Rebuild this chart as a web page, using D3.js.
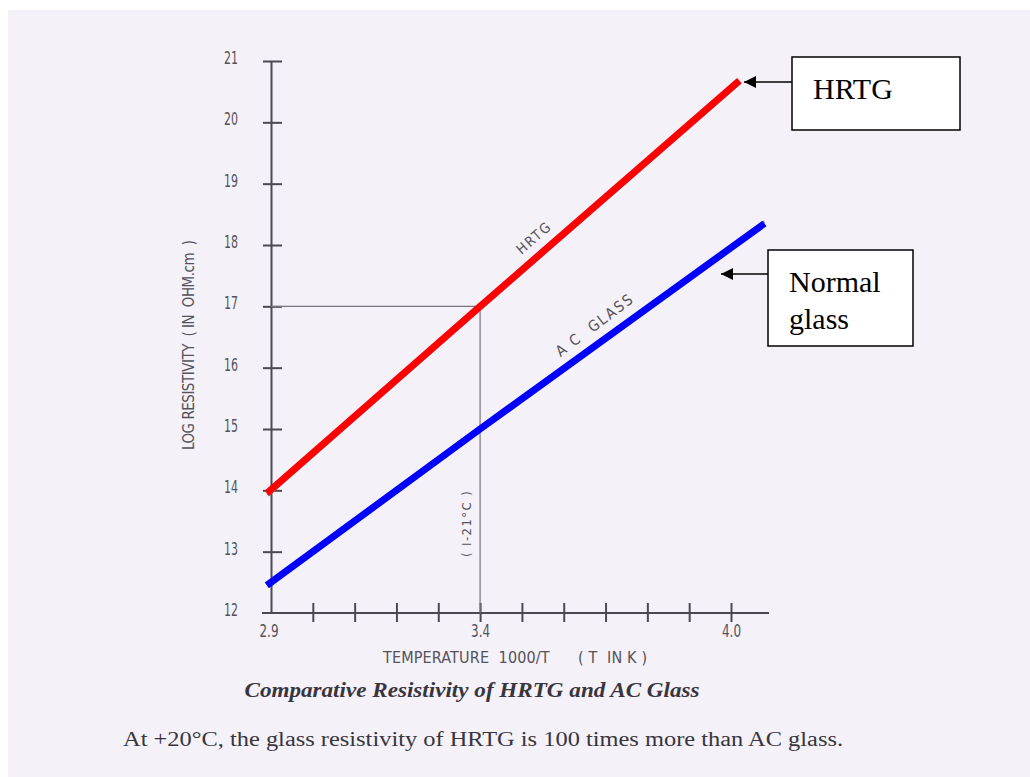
<!DOCTYPE html>
<html>
<head>
<meta charset="utf-8">
<script src="https://cdn.jsdelivr.net/npm/d3@7"></script>
<style>
  html, body { margin: 0; padding: 0; background: #ffffff; }
  svg { display: block; }
</style>
</head>
<body>
<svg id="chart" width="1030" height="777"></svg>
<script>
// values
const yTicks = [12, 13, 14, 15, 16, 17, 18, 19, 20, 21];
const xTicks = [3.0, 3.1, 3.2, 3.3, 3.4, 3.5, 3.6, 3.7, 3.8, 3.9, 4.0];
const xTickLabels = [2.9, 3.4, 4.0];

const hrtgX = [2.89, 3.4, 4.02];
const hrtgY = [13.95, 17.0, 20.68];
const acX = [2.89, 3.4, 4.08];
const acY = [12.45, 15.0, 18.35];

const refPoint = { x: 3.4, y: 17 };

const svg = d3.select("#chart");

// paper background (scan has a thin white edge top/left)
svg.append("rect")
    .attr("x", 8).attr("y", 10)
    .attr("width", 1022).attr("height", 767)
    .attr("fill", "#f4f1f9");

const x = d3.scaleLinear().domain([2.9, 4.0]).range([271, 731]);
const y = d3.scaleLinear().domain([12, 21]).range([613, 61]);

const axisColor = "#4d4953";
const inkColor = "#55525a";
const tickFont = "'Liberation Sans Narrow', 'DejaVu Sans Condensed', 'DejaVu Sans', sans-serif";
const serif = "'Liberation Serif', 'Times New Roman', serif";

// y axis
const yAxis = svg.append("g")
    .attr("transform", `translate(${x(2.9)},0)`)
    .call(d3.axisLeft(y).tickValues(yTicks).tickFormat(d3.format("d")).tickSizeOuter(0));
yAxis.select(".domain").attr("stroke", axisColor).attr("stroke-width", 2);
yAxis.selectAll(".tick line")
    .attr("x1", -8).attr("x2", 11)
    .attr("stroke", axisColor).attr("stroke-width", 2);
yAxis.selectAll(".tick text")
    .attr("x", -33)
    .attr("dy", "0.15em")
    .attr("textLength", 14).attr("lengthAdjust", "spacingAndGlyphs")
    .style("font-family", tickFont)
    .style("font-size", "17px")
    .attr("fill", inkColor);
yAxis.selectAll(".tick").filter(d => d === 12).select("line").remove();

// x axis
const xAxis = svg.append("g")
    .attr("transform", `translate(0,${y(12)})`)
    .call(d3.axisBottom(x).tickValues(xTicks)
        .tickFormat(d => xTickLabels.some(v => Math.abs(v - d) < 1e-6) ? d3.format(".1f")(d) : "")
        .tickSizeOuter(0));
xAxis.select(".domain")
    .attr("d", `M${x(2.9) - 9},0H${x(4.0) + 38}`)
    .attr("stroke", axisColor).attr("stroke-width", 2);
xAxis.selectAll(".tick line")
    .attr("y1", -10).attr("y2", 9)
    .attr("stroke", axisColor).attr("stroke-width", 2);
xAxis.selectAll(".tick text")
    .attr("y", 12)
    .attr("textLength", 19).attr("lengthAdjust", "spacingAndGlyphs")
    .style("font-family", tickFont)
    .style("font-size", "17px")
    .attr("fill", inkColor);
xAxis.append("text")
    .attr("x", x(2.9) - 2).attr("y", 12).attr("dy", "0.71em")
    .attr("text-anchor", "middle")
    .attr("textLength", 19).attr("lengthAdjust", "spacingAndGlyphs")
    .style("font-family", tickFont).style("font-size", "17px")
    .attr("fill", inkColor)
    .text("2.9");

// axis titles
svg.append("text")
    .attr("x", 515).attr("y", 663)
    .attr("text-anchor", "middle")
    .attr("textLength", 264).attr("lengthAdjust", "spacing")
    .style("font-family", tickFont).style("font-size", "16px")
    .attr("fill", inkColor)
    .attr("xml:space", "preserve")
    .text("TEMPERATURE  1000/T      ( T  IN K )");

svg.append("text")
    .attr("transform", `translate(194,345) rotate(-90)`)
    .attr("text-anchor", "middle")
    .attr("textLength", 210).attr("lengthAdjust", "spacing")
    .style("font-family", tickFont).style("font-size", "15px")
    .attr("fill", inkColor)
    .attr("xml:space", "preserve")
    .text("LOG RESISTIVITY  ( IN  OHM.cm  )");

// reference lines at 1000/T = 3.4 (-21 C)
svg.append("path")
    .attr("d", `M${x(2.9)},${y(refPoint.y)}H${x(refPoint.x)}V${y(12)}`)
    .attr("fill", "none")
    .attr("stroke", "#7a7680").attr("stroke-width", 1.2);

svg.append("text")
    .attr("transform", `translate(${x(refPoint.x) - 9},${y(13.45)}) rotate(-90)`)
    .attr("text-anchor", "middle")
    .attr("textLength", 66).attr("lengthAdjust", "spacing")
    .style("font-family", tickFont).style("font-size", "13px")
    .attr("fill", inkColor)
    .attr("xml:space", "preserve")
    .text("( I-21°C )");

// lines
const line = d3.line().x(d => x(d[0])).y(d => y(d[1]));
const hrtg = hrtgX.map((v, i) => [v, hrtgY[i]]);
const ac = acX.map((v, i) => [v, acY[i]]);

// faint pencil line underneath
svg.append("path").datum(hrtg).attr("d", line)
    .attr("transform", "translate(1,2)")
    .attr("fill", "none").attr("stroke", "#9a97a0").attr("stroke-width", 3);
svg.append("path").datum(ac).attr("d", line)
    .attr("transform", "translate(0,-2)")
    .attr("fill", "none").attr("stroke", "#9a97a0").attr("stroke-width", 3);

svg.append("path").datum(hrtg).attr("d", line)
    .attr("fill", "none").attr("stroke", "#ff0000").attr("stroke-width", 7);
svg.append("path").datum(ac).attr("d", line)
    .attr("fill", "none").attr("stroke", "#0000ff").attr("stroke-width", 7);

// handwritten-style labels along the lines
const angle = (pts) => Math.atan2(y(pts[2][1]) - y(pts[0][1]), x(pts[2][0]) - x(pts[0][0])) * 180 / Math.PI;
svg.append("text")
    .attr("transform", `translate(${x(3.535)},${y(18.05)}) rotate(${angle(hrtg)})`)
    .attr("text-anchor", "middle")
    .attr("textLength", 40).attr("lengthAdjust", "spacing")
    .style("font-family", tickFont).style("font-size", "14px")
    .attr("fill", inkColor)
    .text("HRTG");
svg.append("text")
    .attr("transform", `translate(${x(3.68)},${y(16.62)}) rotate(${angle(ac) - 1})`)
    .attr("text-anchor", "middle")
    .attr("textLength", 92).attr("lengthAdjust", "spacing")
    .style("font-family", tickFont).style("font-size", "15px")
    .attr("fill", inkColor)
    .attr("xml:space", "preserve")
    .text("A C  GLASS");

// callout boxes
const defs = svg.append("defs");
defs.append("marker")
    .attr("id", "arrow")
    .attr("viewBox", "0 0 10 10")
    .attr("refX", 10).attr("refY", 5)
    .attr("markerWidth", 15).attr("markerHeight", 12)
    .attr("markerUnits", "userSpaceOnUse")
    .attr("orient", "auto")
    .append("path").attr("d", "M0,0L10,5L0,10Z").attr("fill", "#000");

const callouts = [
    { x: 792, y: 57, w: 168, h: 73, ay: 82, tip: 744, lines: ["HRTG"] },
    { x: 768, y: 250, w: 145, h: 96, ay: 274, tip: 721, lines: ["Normal", "glass"] }
];

callouts.forEach(c => {
    svg.append("rect")
        .attr("x", c.x).attr("y", c.y).attr("width", c.w).attr("height", c.h)
        .attr("fill", "#ffffff").attr("stroke", "#000").attr("stroke-width", 1.5);
    svg.append("line")
        .attr("x1", c.x).attr("y1", c.ay).attr("x2", c.tip).attr("y2", c.ay)
        .attr("stroke", "#000").attr("stroke-width", 1.5)
        .attr("marker-end", "url(#arrow)");
    c.lines.forEach((t, i) => {
        svg.append("text")
            .attr("x", c.x + 21).attr("y", c.y + 42 + i * 37)
            .style("font-family", serif)
            .style("font-size", "30px")
            .attr("fill", "#000")
            .text(t);
    });
});

// caption
svg.append("text")
    .attr("x", 472).attr("y", 697)
    .attr("text-anchor", "middle")
    .attr("textLength", 455).attr("lengthAdjust", "spacingAndGlyphs")
    .style("font-family", serif)
    .style("font-size", "21px").style("font-weight", "bold").style("font-style", "italic")
    .attr("fill", "#38353d")
    .text("Comparative Resistivity of HRTG and AC Glass");

svg.append("text")
    .attr("x", 123).attr("y", 746)
    .attr("textLength", 720).attr("lengthAdjust", "spacingAndGlyphs")
    .style("font-family", serif)
    .style("font-size", "20px")
    .attr("fill", "#38353d")
    .text("At +20°C, the glass resistivity of HRTG is 100 times more than AC glass.");
</script>
</body>
</html>
